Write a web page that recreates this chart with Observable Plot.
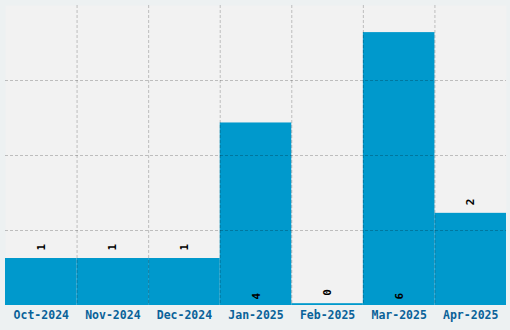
<!DOCTYPE html>
<html>
<head>
<meta charset="utf-8">
<script src="https://cdn.jsdelivr.net/npm/d3@7"></script>
<script src="https://cdn.jsdelivr.net/npm/@observablehq/plot@0.6"></script>
<style>
  html, body { margin: 0; padding: 0; background: #edf1f2; }
  #chart svg { display: block; }
</style>
</head>
<body>
<div id="chart"></div>
<script>
const months = ["Oct-2024", "Nov-2024", "Dec-2024", "Jan-2025", "Feb-2025", "Mar-2025", "Apr-2025"];
const counts = [1, 1, 1, 4, 0, 6, 2];

const W = 510, H = 330;
const mL = 5, mR = 4, mT = 5, mB = 25;
const yMin = -0.04, yMax = 6.6;
const data = months.map((m, i) => ({month: m, value: counts[i]}));
const bw = (W - mL - mR) / months.length;
const gridY = [1, 2, 3].map(i => yMin + i * (yMax - yMin) / 4);
const mono = "'DejaVu Sans Mono', 'Liberation Mono', monospace";

const chart = Plot.plot({
  width: W,
  height: H,
  marginLeft: mL,
  marginRight: mR,
  marginTop: mT,
  marginBottom: mB,
  style: {background: "transparent", fontFamily: mono},
  x: {domain: months, padding: 0, round: false, label: null},
  y: {domain: [yMin, yMax], axis: null},
  marks: [
    Plot.frame({fill: "#f2f2f2", stroke: null}),
    Plot.barY(data, {x: "month", y1: () => yMin, y2: "value", fill: "#0099cc"}),
    Plot.ruleY(gridY, {stroke: "#000", strokeOpacity: 0.22, strokeDasharray: "3,2"}),
    Plot.ruleX(months.slice(1), {x: d => d, dx: -bw / 2, stroke: "#000", strokeOpacity: 0.22, strokeDasharray: "3,2"}),
    Plot.text(data.filter(d => d.value < 3), {
      x: "month", y: "value", text: d => String(d.value),
      rotate: -90, textAnchor: "start", dy: -8,
      fontSize: 11, fontWeight: "bold", fill: "#000", fontFamily: mono
    }),
    Plot.text(data.filter(d => d.value >= 3), {
      x: "month", y: () => yMin, text: d => String(d.value),
      rotate: -90, textAnchor: "start", dy: -6,
      fontSize: 11, fontWeight: "bold", fill: "#000", fontFamily: mono
    }),
    Plot.axisX({
      tickSize: 0, tickPadding: 5, label: null,
      fontSize: 11.5, fontWeight: "bold", fill: "#0a6299", fontFamily: mono
    })
  ]
});
document.getElementById("chart").appendChild(chart);
</script>
</body>
</html>
